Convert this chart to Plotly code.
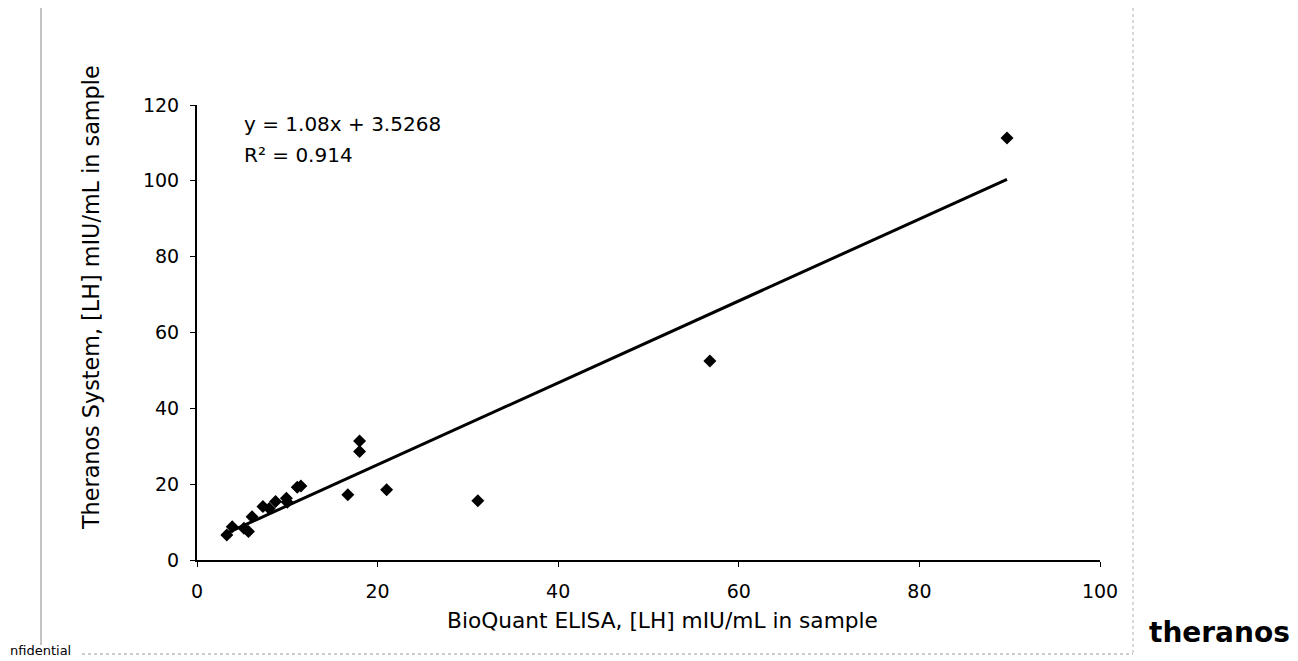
import plotly.graph_objects as go

# ---- data ----
bioquant_x = [3.3, 3.9, 5.2, 5.7, 6.1, 7.3, 8.0, 8.7, 9.9, 10.0, 11.1, 11.5,
              16.7, 18.0, 18.0, 21.0, 31.1, 56.8, 89.7]
theranos_y = [6.6, 8.8, 8.4, 7.5, 11.4, 14.1, 13.6, 15.4, 16.3, 15.2, 19.2, 19.5,
              17.2, 31.4, 28.6, 18.5, 15.6, 52.5, 111.3]
trend_slope = 1.08
trend_intercept = 3.5268
x_ticks = [0, 20, 40, 60, 80, 100]
y_ticks = [0, 20, 40, 60, 80, 100, 120]
equation_text = "y = 1.08x + 3.5268"
r2_text = "R² = 0.914"
x_title = "BioQuant ELISA, [LH] mIU/mL in sample"
y_title = "Theranos System, [LH] mIU/mL in sample"

# page has an 8px body margin; work in page pixels and convert
OFF = 8
W, H = 1298 - OFF, 661 - OFF
PLOT_L, PLOT_R, PLOT_T, PLOT_B = 197, 1100, 105, 560  # page pixels
ML, MT = PLOT_L - OFF, PLOT_T - OFF
MR = W - (PLOT_R - OFF)
MB = H - (PLOT_B - OFF)
PW, PH = PLOT_R - PLOT_L, PLOT_B - PLOT_T


def px(x):
    return (x - PLOT_L) / PW


def py(y):
    return (PLOT_B - y) / PH


FONT = "DejaVu Sans"

fig = go.Figure()

# trendline spanning the data range
x0, x1 = min(bioquant_x), max(bioquant_x)
fig.add_trace(go.Scatter(
    x=[x0, x1],
    y=[trend_slope * x0 + trend_intercept, trend_slope * x1 + trend_intercept],
    mode="lines", line=dict(color="black", width=3), hoverinfo="skip",
    showlegend=False,
))

fig.add_trace(go.Scatter(
    x=bioquant_x, y=theranos_y, mode="markers",
    marker=dict(symbol="diamond", size=10, color="black"),
    showlegend=False,
))

axis_common = dict(
    showgrid=False, zeroline=False, showline=True, linecolor="black",
    linewidth=2, ticks="outside", ticklen=5, tickcolor="black",
    tickfont=dict(family=FONT, size=19, color="black"),
)

fig.update_xaxes(range=[0, 100], tickvals=x_ticks, ticklabelstandoff=8,
                 **axis_common)
fig.update_yaxes(range=[0, 120], tickvals=y_ticks, ticklabelstandoff=7,
                 **axis_common)

annotations = [
    dict(x=px(242), y=py(124), xref="paper", yref="paper", text=equation_text,
         showarrow=False, xanchor="left", yanchor="middle",
         font=dict(family=FONT, size=20, color="black")),
    dict(x=px(242), y=py(155), xref="paper", yref="paper", text=r2_text,
         showarrow=False, xanchor="left", yanchor="middle",
         font=dict(family=FONT, size=20, color="black")),
    dict(x=px(662), y=py(620), xref="paper", yref="paper", text=x_title,
         showarrow=False, xanchor="center", yanchor="middle",
         font=dict(family=FONT, size=21.7, color="black")),
    dict(x=px(91), y=py(298), xref="paper", yref="paper", text=y_title,
         showarrow=False, xanchor="center", yanchor="middle", textangle=-90,
         font=dict(family=FONT, size=22.3, color="black")),
    dict(x=px(OFF), y=py(650), xref="paper", yref="paper", text="nfidential",
         showarrow=False, xanchor="left", yanchor="middle",
         font=dict(family=FONT, size=13, color="black")),
    dict(x=px(1219), y=py(632), xref="paper", yref="paper", text="<b>theranos</b>",
         showarrow=False, xanchor="center", yanchor="middle",
         font=dict(family=FONT, size=28, color="black")),
]

shapes = [
    dict(type="line", xref="paper", yref="paper", x0=px(41), x1=px(41),
         y0=py(OFF), y1=py(645), line=dict(color="#8a8a8a", width=1)),
    dict(type="line", xref="paper", yref="paper", x0=px(82), x1=px(1133),
         y0=py(654), y1=py(654), line=dict(color="#9a9a9a", width=1, dash="dot")),
    dict(type="line", xref="paper", yref="paper", x0=px(1133), x1=px(1133),
         y0=py(OFF), y1=py(654), line=dict(color="#b0b0b0", width=1, dash="dot")),
]

fig.update_layout(
    width=W, height=H,
    margin=dict(l=ML, r=MR, t=MT, b=MB),
    paper_bgcolor="white", plot_bgcolor="white",
    annotations=annotations, shapes=shapes,
    showlegend=False,
)

fig.write_html("out.html")
